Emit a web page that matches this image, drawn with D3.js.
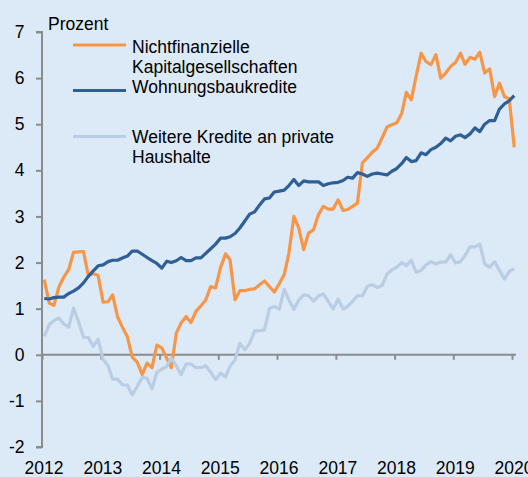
<!DOCTYPE html>
<html><head><meta charset="utf-8">
<script src="https://cdn.jsdelivr.net/npm/d3@7"></script>
<style>
html,body{margin:0;padding:0;background:#dce9f6;}
svg{display:block;}
text{font-family:"Liberation Sans",Arial,sans-serif;fill:#000;}
</style></head>
<body>
<svg id="c" width="528" height="477"></svg>
<script>
// ---- data ----
const years = ["2012","2013","2014","2015","2016","2017","2018","2019","2020"];
const yTicks = [-2,-1,0,1,2,3,4,5,6,7];
const yTickLabels = ["-2","-1","0","1","2","3","4","5","6","7"];
const nfk = [1.63,1.12,1.07,1.47,1.68,1.85,2.22,2.23,2.24,1.72,1.76,1.72,
 1.14,1.15,1.3,0.82,0.6,0.39,-0.05,-0.16,-0.43,-0.18,-0.28,0.21,
 0.15,-0.08,-0.28,0.47,0.69,0.83,0.7,0.94,1.06,1.19,1.48,1.45,
 1.89,2.19,2.06,1.19,1.39,1.39,1.42,1.43,1.52,1.6,1.48,1.36,
 1.54,1.74,2.2,3.0,2.75,2.28,2.64,2.71,3.04,3.22,3.16,3.16,
 3.36,3.13,3.15,3.22,3.29,4.16,4.27,4.39,4.48,4.7,4.94,4.99,
 5.03,5.24,5.69,5.53,6.04,6.54,6.36,6.29,6.51,6.0,6.11,6.25,
 6.34,6.54,6.3,6.45,6.41,6.56,6.11,6.2,5.6,5.89,5.6,5.55,4.5];
const wohnung = [1.22,1.21,1.24,1.25,1.25,1.33,1.38,1.45,1.56,1.7,1.82,1.93,
 1.95,2.02,2.05,2.05,2.1,2.14,2.25,2.25,2.18,2.11,2.04,1.98,
 1.88,2.03,2.0,2.04,2.11,2.04,2.04,2.1,2.1,2.2,2.3,2.4,
 2.53,2.53,2.56,2.63,2.75,2.9,3.05,3.1,3.25,3.38,3.4,3.53,
 3.55,3.57,3.67,3.8,3.67,3.77,3.75,3.75,3.75,3.67,3.71,3.73,
 3.74,3.78,3.85,3.83,3.95,3.92,3.87,3.92,3.94,3.92,3.9,3.98,
 4.04,4.15,4.28,4.19,4.21,4.38,4.34,4.45,4.5,4.58,4.7,4.64,
 4.74,4.77,4.71,4.79,4.92,4.84,5.0,5.08,5.08,5.33,5.44,5.51,5.62];
const weitere = [0.4,0.65,0.74,0.8,0.67,0.6,1.01,0.72,0.38,0.37,0.18,0.34,
 -0.11,-0.24,-0.53,-0.53,-0.65,-0.66,-0.87,-0.69,-0.49,-0.51,-0.74,-0.38,
 -0.31,-0.25,-0.07,-0.24,-0.43,-0.2,-0.2,-0.28,-0.28,-0.24,-0.38,-0.54,
 -0.4,-0.48,-0.25,-0.11,0.25,0.11,0.25,0.52,0.52,0.54,1.0,1.05,
 0.99,1.42,1.19,0.99,1.18,1.3,1.28,1.16,1.28,1.32,1.16,0.99,
 1.21,0.99,1.05,1.16,1.28,1.28,1.48,1.52,1.46,1.5,1.75,1.84,
 1.9,2.0,1.93,2.05,1.79,1.83,1.95,2.02,1.97,2.01,2.01,2.17,
 1.99,2.02,2.15,2.34,2.34,2.4,1.97,1.9,2.02,1.83,1.64,1.81,1.87];
const seriesNames = [["Nichtfinanzielle","Kapitalgesellschaften"],["Wohnungsbaukredite"],["Weitere Kredite an private","Haushalte"]];
const seriesColors = ["#f79646","#2f5f94","#b9cde5"];
const yLabel = "Prozent";

// months (mid-month positions), Jan 2012 .. Jan 2020
const months = d3.timeMonth.range(new Date(2012,0,1), new Date(2020,1,1)).map(d => new Date(d.getFullYear(), d.getMonth(), 15));

const svg = d3.select("#c");
const x = d3.scaleTime().domain([new Date(2012,0,1), new Date(2020,0,1)]).range([42,512]);
const y = d3.scaleLinear().domain([-2,7]).range([447,32]);
const FS = "17.5px";
const axisCol = "#8c8c8c";

// y axis
const ya = svg.append("g").attr("transform","translate(42,0)")
  .call(d3.axisLeft(y).tickValues(yTicks).tickSize(6).tickPadding(11.5).tickFormat((d,i)=>yTickLabels[i]));
ya.select(".domain").attr("stroke",axisCol).attr("stroke-width",2).attr("d","M-6,"+y(7)+"H0V"+y(-2)+"H-6");
ya.selectAll(".tick line").attr("stroke",axisCol).attr("stroke-width",2);
ya.selectAll("text").style("font-size",FS).attr("fill","#000");

// x axis at zero
const xa = svg.append("g").attr("transform","translate(0,"+y(0)+")")
  .call(d3.axisBottom(x).tickValues(years.map(s => new Date(+s,0,1))).tickSize(5).tickFormat((d,i)=>years[i]));
xa.select(".domain").attr("stroke",axisCol).attr("stroke-width",2).attr("d","M42,0H516");
xa.selectAll(".tick line").attr("stroke",axisCol).attr("stroke-width",2);
xa.selectAll("text").style("font-size",FS).attr("fill","#000")
  .attr("x",1.5).attr("y", 461.5 - y(0)).attr("dy","0.71em");

// lines
const line = d3.line().x((d,i)=>x(months[i])).y(d=>y(d));
[nfk, wohnung, weitere].forEach((s,k)=>{
  svg.append("path").datum(s).attr("d",line).attr("fill","none")
    .attr("stroke",seriesColors[k]).attr("stroke-width",3.2)
    .attr("stroke-linejoin","round").attr("stroke-linecap","butt");
});

// legend
svg.append("text").attr("x",48).attr("y",30).style("font-size",FS).text(yLabel);
const legY = [45, 90.5, 136.5];
const txtY = [52.7, 93.3, 142.7];
seriesNames.forEach((names,k)=>{
  svg.append("line").attr("x1",73).attr("x2",126).attr("y1",legY[k]).attr("y2",legY[k])
    .attr("stroke",seriesColors[k]).attr("stroke-width",3.2);
  names.forEach((t,j)=>{
    svg.append("text").attr("x",132).attr("y",txtY[k]+j*20.6).style("font-size",FS).text(t);
  });
});
</script>
</body></html>
